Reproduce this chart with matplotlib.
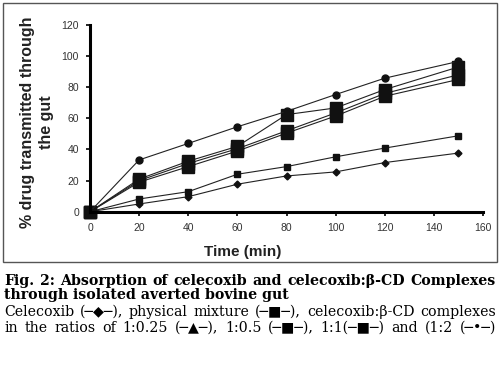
import matplotlib
matplotlib.use('Agg')
import matplotlib.pyplot as plt
from matplotlib.patches import Rectangle

# Time points (min)
time = [0, 20, 40, 60, 80, 100, 120, 150]

# % drug transmitted through the gut
celecoxib = [0, 5, 9.7, 17.7, 23, 25.6, 31.6, 37.7]
physical_mixture = [0, 8.2, 12.9, 24.1, 29, 35.3, 40.9, 48.8]
ratio_1_025 = [0, 19, 29, 39, 50.5, 61.5, 74.2, 85]
ratio_1_05 = [0, 20, 31, 40.5, 52, 63.5, 76, 88]
ratio_1_1 = [0, 21, 32.5, 42, 62.4, 66.7, 78.5, 93]
ratio_1_2 = [0, 33.3, 43.9, 54.6, 64.5, 75.3, 85.8, 96.6]

xticks = [0, 20, 40, 60, 80, 100, 120, 140, 160]
yticks = [0, 20, 40, 60, 80, 100, 120]

caption = [
    ('Fig. 2: Absorption of celecoxib and celecoxib:\u03b2-CD Complexes', 'bold', True),
    ('through isolated averted bovine gut', 'bold', False),
    ('Celecoxib (\u2500\u25c6\u2500), physical mixture (\u2500\u25a0\u2500), celecoxib:\u03b2-CD complexes', 'normal', True),
    ('in the ratios of  1:0.25 (\u2500\u25b2\u2500), 1:0.5 (\u2500\u25a0\u2500), 1:1(\u2500\u25a0\u2500) and (1:2 (\u2500\u2022\u2500)', 'normal', True),
]
caption_y = [0.235, 0.197, 0.150, 0.106]

fig = plt.figure(figsize=(5, 3.67), dpi=100)
ax = fig.add_axes([0.18, 0.423, 0.786, 0.509])

line_kw = dict(color='#222222', lw=0.8, markeredgecolor='#111111', markerfacecolor='#111111')
ax.plot(time, celecoxib, marker='D', ms=3.5, **line_kw)
ax.plot(time, physical_mixture, marker='s', ms=5, **line_kw)
ax.plot(time, ratio_1_025, marker='s', ms=9, **line_kw)
ax.plot(time, ratio_1_05, marker='s', ms=9, **line_kw)
ax.plot(time, ratio_1_1, marker='s', ms=9, **line_kw)
ax.plot(time, ratio_1_2, marker='o', ms=5, **line_kw)

ax.set_xlim(0, 160)
ax.set_ylim(0, 120)
ax.set_xticks(xticks)
ax.set_yticks(yticks)
for s in ['top', 'right']:
    ax.spines[s].set_visible(False)
for s in ['left', 'bottom']:
    ax.spines[s].set_linewidth(2.2)
    ax.spines[s].set_color('black')
ax.tick_params(axis='both', labelsize=7.5, labelcolor='#333333', length=3, width=1.2, pad=5)
for lbl in ax.get_xticklabels() + ax.get_yticklabels():
    lbl.set_family('Liberation Sans')
for ln in ax.lines:
    ln.set_clip_on(False)

fig.text(0.074, 0.667, '% drug transmitted through\nthe gut', rotation=90,
         ha='center', va='center', fontsize=11.5, fontweight='bold',
         family='Liberation Sans', color='#222222', linespacing=1.25)
fig.text(0.486, 0.313, 'Time (min)', ha='center', va='center', fontsize=11,
         fontweight='bold', family='Liberation Sans', color='#222222')

# border around chart
fig.patches.append(Rectangle((0.006, 0.286), 0.988, 0.706, transform=fig.transFigure,
                             fill=False, edgecolor='#555555', lw=1))

# caption: size fitted so line 3 nearly fills the width, then justified
serif = ['DejaVu Serif', 'DejaVu Sans']
left_px, right_px = 4, 496
renderer = fig.canvas.get_renderer()
probe = fig.text(0, 0, caption[2][0], fontsize=10, family=serif)
fsize = 10 * (right_px - left_px - 6) / probe.get_window_extent(renderer).width
probe.remove()

for (txt, weight, justify), y in zip(caption, caption_y):
    if not justify:
        fig.text(left_px / 500, y, txt, fontsize=fsize, fontweight=weight,
                 family=serif, ha='left', va='center')
        continue
    words = [w for w in txt.split(' ') if w]
    items = []
    total = 0
    for w in words:
        t = fig.text(0, y, w, fontsize=fsize, fontweight=weight,
                     family=serif, ha='left', va='center')
        wpx = t.get_window_extent(renderer).width
        items.append((t, wpx))
        total += wpx
    gap = (right_px - left_px - total) / (len(items) - 1)
    x = left_px
    for t, wpx in items:
        t.set_x(x / 500)
        x += wpx + gap

fig.savefig('out.png', dpi=100)
